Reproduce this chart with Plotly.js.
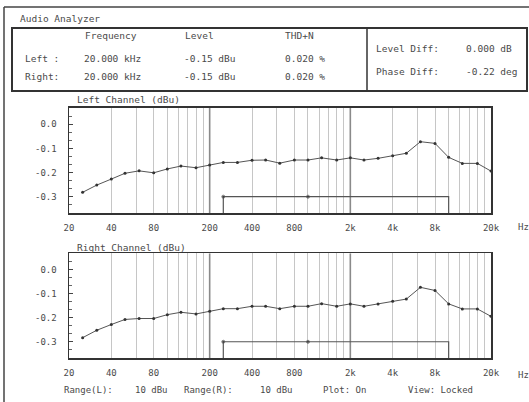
<!DOCTYPE html>
<html>
<head>
<meta charset="utf-8">
<script src="https://cdn.plot.ly/plotly-3.0.1.min.js"></script>
<style>
  html, body { margin: 0; padding: 0; background: #fff; }
  #chart { width: 529px; height: 402px; }
</style>
</head>
<body>
<div id="chart"></div>
<script>
// 1/3-octave sweep frequencies and the measured levels per channel (dBu)
const freqHz = [25, 31.5, 40, 50, 63, 80, 100, 125, 160, 200, 250, 315, 400, 500, 630,
                800, 1000, 1250, 1600, 2000, 2500, 3150, 4000, 5000, 6300, 8000, 10000, 12500, 16000, 20000];
const leftDbu = [-0.282, -0.252, -0.227, -0.203, -0.193, -0.201, -0.185, -0.173, -0.180, -0.169,
                 -0.158, -0.158, -0.149, -0.148, -0.161, -0.148, -0.148, -0.139, -0.148, -0.139,
                 -0.148, -0.141, -0.130, -0.120, -0.072, -0.079, -0.137, -0.162, -0.162, -0.194];
const rightDbu = [-0.283, -0.252, -0.228, -0.207, -0.203, -0.203, -0.187, -0.177, -0.184, -0.173,
                  -0.162, -0.162, -0.152, -0.152, -0.162, -0.152, -0.152, -0.141, -0.152, -0.142,
                  -0.152, -0.142, -0.131, -0.122, -0.073, -0.086, -0.142, -0.163, -0.163, -0.194];

// Axis ticks and grid positions
const tickHz = [20, 40, 80, 200, 400, 800, 2000, 4000, 8000, 20000];
const tickText = ["20", "40", "80", "200", "400", "800", "2k", "4k", "8k", "20k"];
const gridHz = [40, 60, 80, 100, 120, 140, 160, 180, 400, 600, 800, 1000, 1200, 1400, 1600, 1800,
                4000, 6000, 8000, 10000, 12000, 14000, 16000, 18000];
const heavyGridHz = [200, 2000];
const levelTicks = [0, -0.1, -0.2, -0.3];
const levelText = ["0.0", "-0.1", "-0.2", "-0.3"];
const levelRange = [-0.369, 0.069];

// Sweep range indicator
const sweepStartHz = 250;
const sweepEndHz = 10000;
const sweepMarkHz = 1000;
const sweepLevel = -0.3;

// Header readings
const headerCols = ["Frequency", "Level", "THD+N"];
const rowNames = ["Left :", "Right:"];
const rowFreq = ["20.000 kHz", "20.000 kHz"];
const rowLevel = ["-0.15 dBu", "-0.15 dBu"];
const rowThd = ["0.020 %", "0.020 %"];
const diffNames = ["Level Diff:", "Phase Diff:"];
const diffValues = ["0.000 dB", "-0.22 deg"];
const footer = [["Range(L):", 62], ["10 dBu", 133], ["Range(R):", 182], ["10 dBu", 258],
                ["Plot: On", 321], ["View: Locked", 406]];

const W = 529, H = 402;
const px = x => x / W;
const py = y => 1 - y / H;
const MONO = "DejaVu Sans Mono, Liberation Mono, monospace";
const INK = "#4a4a4a";
const GRID = "#c6c6c6";

const curveStyle = {
  mode: "lines+markers",
  line: { color: "#555", width: 1 },
  marker: { color: "#333", size: 3 },
  hoverinfo: "skip", showlegend: false
};

function heavyGrid(xa, ya) {
  const xs = [], ys = [];
  heavyGridHz.forEach(f => { xs.push(f, f, null); ys.push(levelRange[0], levelRange[1], null); });
  return { x: xs, y: ys, xaxis: xa, yaxis: ya, mode: "lines",
           line: { color: "#8a8a8a", width: 1.6 }, hoverinfo: "skip", showlegend: false };
}
function sweepTrace(xa, ya) {
  return {
    x: [sweepStartHz, sweepStartHz, sweepMarkHz, sweepEndHz, sweepEndHz],
    y: [levelRange[0], sweepLevel, sweepLevel, sweepLevel, levelRange[0]],
    xaxis: xa, yaxis: ya, mode: "lines+markers",
    line: { color: "#555", width: 1.2 },
    marker: { color: "#333", size: [0, 3, 3, 0, 0] },
    hoverinfo: "skip", showlegend: false
  };
}

const traces = [
  heavyGrid("x", "y"), sweepTrace("x", "y"),
  Object.assign({ x: freqHz, y: leftDbu, xaxis: "x", yaxis: "y" }, curveStyle),
  heavyGrid("x2", "y2"), sweepTrace("x2", "y2"),
  Object.assign({ x: freqHz, y: rightDbu, xaxis: "x2", yaxis: "y2" }, curveStyle)
];

function xAxis(domain, anchor) {
  return {
    type: "log", range: [Math.log10(20), Math.log10(20000)], domain: domain, anchor: anchor,
    tickmode: "array", tickvals: tickHz, ticktext: tickText, ticks: "", showgrid: false,
    ticklabelstandoff: 5,
    minor: { tickmode: "array", tickvals: gridHz, showgrid: true, gridcolor: GRID, gridwidth: 1, ticks: "" },
    showline: true, mirror: true, linecolor: "#333", linewidth: 1.5,
    zeroline: false, tickfont: { family: MONO, size: 9, color: INK }, fixedrange: true
  };
}
function yAxis(domain, anchor) {
  return {
    range: levelRange, domain: domain, anchor: anchor,
    tickmode: "array", tickvals: levelTicks, ticktext: levelText,
    ticks: "inside", ticklen: 4, tickcolor: "#444", showgrid: false, zeroline: false,
    ticklabelstandoff: 9,
    minor: { tick0: 0, dtick: 0.1 / 3, ticks: "inside", ticklen: 3, tickcolor: "#666", showgrid: false },
    showline: true, mirror: true, linecolor: "#333", linewidth: 1.5,
    tickfont: { family: MONO, size: 9, color: INK }, fixedrange: true
  };
}

const ann = [];
function text(t, x, y, size, anchor) {
  ann.push({ text: t, x: px(x), y: py(y), xref: "paper", yref: "paper", showarrow: false,
             xanchor: anchor || "left", yanchor: "middle",
             font: { family: MONO, size: size || 9.5, color: INK } });
}
text("Audio Analyzer", 18, 19, 9.5);
text(headerCols[0], 83, 35); text(headerCols[1], 183, 35); text(headerCols[2], 283, 35);
rowNames.forEach((n, i) => {
  const y = 58 + i * 19;
  text(n, 23, y); text(rowFreq[i], 82, y); text(rowLevel[i], 182, y); text(rowThd[i], 283, y);
});
diffNames.forEach((n, i) => {
  const y = 48 + i * 24;
  text(n, 374, y); text(diffValues[i], 464, y);
});
text("Left Channel (dBu)", 75, 100);
text("Right Channel (dBu)", 75, 247);
text("Hz", 516, 227, 9);
text("Hz", 516, 375, 9);
footer.forEach(([t, x]) => text(t, x, 390, 9));

const shapes = [
  // outer frame
  { type: "line", xref: "paper", yref: "paper", x0: px(4), x1: 1, y0: py(7), y1: py(7), line: { color: "#444", width: 1.5 } },
  { type: "line", xref: "paper", yref: "paper", x0: px(4), x1: px(4), y0: py(7), y1: 0, line: { color: "#444", width: 1.5 } },
  // header box
  { type: "rect", xref: "paper", yref: "paper", x0: px(12), x1: px(527), y0: py(91), y1: py(28),
    line: { color: "#333", width: 2 } },
  { type: "line", xref: "paper", yref: "paper", x0: px(367), x1: px(367), y0: py(91), y1: py(28),
    line: { color: "#333", width: 1.5 } }
];

const layout = {
  width: W, height: H,
  margin: { l: 0, r: 0, t: 0, b: 0 },
  paper_bgcolor: "#fff", plot_bgcolor: "#fff",
  showlegend: false,
  xaxis: xAxis([px(69), px(491)], "y"),
  yaxis: yAxis([py(213.3), py(107.7)], "x"),
  xaxis2: xAxis([px(69), px(491)], "y2"),
  yaxis2: yAxis([py(358.3), py(253.3)], "x2"),
  annotations: ann,
  shapes: shapes
};

Plotly.newPlot("chart", traces, layout, { displayModeBar: false, staticPlot: true });
</script>
</body>
</html>
